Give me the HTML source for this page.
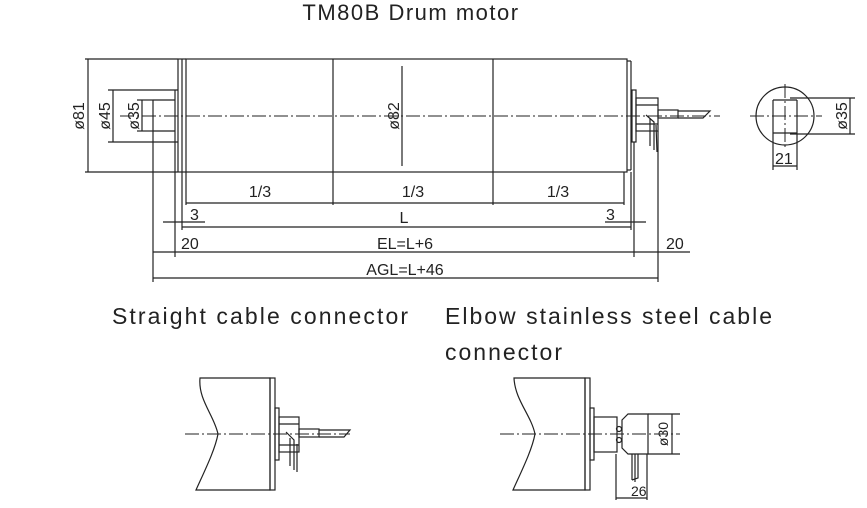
<!DOCTYPE html>
<html><head><meta charset="utf-8"><style>
body{margin:0;background:#fff}
svg{display:block}
text{font-family:"Liberation Sans",sans-serif;fill:#222}
</style></head><body>
<svg width="867" height="508" viewBox="0 0 867 508" xmlns="http://www.w3.org/2000/svg">
<rect width="867" height="508" fill="#fff"/>
<g stroke="#222" stroke-width="1.2" fill="none">
<rect x="186" y="59" width="441" height="113"/>
<line x1="178" y1="59" x2="186" y2="59"/><line x1="178" y1="172" x2="186" y2="172"/>
<line x1="178" y1="59" x2="178" y2="172"/><line x1="182" y1="59" x2="182" y2="172"/>
<line x1="333" y1="59" x2="333" y2="205"/><line x1="493" y1="59" x2="493" y2="205"/>
<line x1="631" y1="61" x2="631" y2="170"/><line x1="627" y1="61" x2="631" y2="61"/><line x1="627" y1="170" x2="631" y2="170"/>
<line x1="108" y1="90" x2="178" y2="90"/><line x1="108" y1="142" x2="178" y2="142"/>
<line x1="175" y1="90" x2="175" y2="257"/>
<line x1="153" y1="100" x2="175" y2="100"/><line x1="153" y1="131" x2="175" y2="131"/>
<line x1="137" y1="100" x2="153" y2="100"/><line x1="137" y1="131" x2="153" y2="131"/>
<line x1="153" y1="100" x2="153" y2="282"/>
<line x1="85" y1="59" x2="178" y2="59"/><line x1="85" y1="172" x2="178" y2="172"/>
<line x1="88" y1="59" x2="88" y2="172"/>
<line x1="113" y1="90" x2="113" y2="142"/>
<line x1="142" y1="100" x2="142" y2="131"/>
<rect x="632" y="90" width="4" height="52"/>
<rect x="636" y="98" width="22" height="33"/>
<line x1="636" y1="105" x2="658" y2="105"/><line x1="636" y1="124" x2="658" y2="124"/>
<rect x="658" y="110" width="20" height="8"/>
<path d="M678 111 L710 111 L703 118 L678 118"/>
<path d="M646 115 L654 122 L654 150 M650 118 L650 146 M656 125 L657 152" />
<line x1="186" y1="172" x2="186" y2="205"/><line x1="624" y1="172" x2="624" y2="205"/>
<line x1="186" y1="203" x2="624" y2="203"/>
<line x1="182" y1="172" x2="182" y2="230"/><line x1="631" y1="172" x2="631" y2="230"/>
<line x1="182" y1="227" x2="631" y2="227"/>
<line x1="163" y1="222" x2="205" y2="222"/><line x1="605" y1="222" x2="646" y2="222"/>
<line x1="634" y1="142" x2="634" y2="257"/>
<line x1="153" y1="252" x2="690" y2="252"/>
<line x1="658" y1="131" x2="658" y2="282"/>
<line x1="153" y1="278" x2="658" y2="278"/>
<line x1="402" y1="66" x2="402" y2="166"/>
<circle cx="785" cy="116" r="29"/>
<line x1="773" y1="100" x2="773" y2="170"/><line x1="797" y1="100" x2="797" y2="170"/>
<line x1="773" y1="100" x2="797" y2="100"/><line x1="773" y1="133" x2="797" y2="133"/>
<line x1="790" y1="98" x2="855" y2="98"/><line x1="790" y1="134" x2="855" y2="134"/>
<line x1="850" y1="98" x2="850" y2="134"/>
<line x1="773" y1="166" x2="797" y2="166"/>
<path d="M200 378 L270 378 L270 490 L196 490 C205 470 215 450 218 434 C214 415 198 400 200 378 Z"/>
<rect x="270" y="378" width="5" height="112"/>
<rect x="275" y="408" width="4" height="52"/>
<rect x="279" y="417" width="20" height="35"/>
<line x1="279" y1="424" x2="299" y2="424"/><line x1="279" y1="445" x2="299" y2="445"/>
<rect x="299" y="429" width="20" height="8"/>
<path d="M319 430 L350 430 L344 437 L319 437"/>
<path d="M286 432 L294 440 L294 470 M290 438 L290 466 M297 444 L297 472"/>
<path d="M514 378 L585 378 L585 490 L513 490 C522 470 532 450 535 434 C531 415 515 400 514 378 Z"/>
<rect x="585" y="378" width="5" height="112"/>
<rect x="590" y="408" width="4" height="52"/>
<rect x="594" y="417" width="23" height="35"/>
<circle cx="619" cy="429" r="2.5"/><circle cx="619" cy="440" r="2.5"/>
<path d="M622 420 L628 414 L648 414 L648 454 L628 454 L622 448 Z"/>
<line x1="648" y1="414" x2="680" y2="414"/><line x1="648" y1="454" x2="680" y2="454"/>
<line x1="672" y1="414" x2="672" y2="454"/>
<path d="M632 454 L632 480 M635 454 L635 482 M638 454 L638 478 L632 480"/>
<line x1="616" y1="454" x2="616" y2="500"/><line x1="647" y1="454" x2="647" y2="500"/>
<line x1="616" y1="498" x2="647" y2="498"/>
</g>
<g stroke="#222" stroke-width="1" stroke-dasharray="14,3,2,3" fill="none">
<line x1="120" y1="116" x2="720" y2="116"/>
<line x1="750" y1="116" x2="822" y2="116"/>
<line x1="785" y1="84" x2="785" y2="150"/>
<line x1="185" y1="434" x2="350" y2="434"/>
<line x1="500" y1="434" x2="680" y2="434"/>
</g>
<text x="411" y="20" font-size="22" text-anchor="middle" letter-spacing="1.5">TM80B Drum motor</text>
<g font-size="16">
<text x="260" y="197" text-anchor="middle">1/3</text>
<text x="413" y="197" text-anchor="middle">1/3</text>
<text x="558" y="197" text-anchor="middle">1/3</text>
<text x="190" y="220">3</text>
<text x="606" y="220">3</text>
<text x="404" y="223" text-anchor="middle">L</text>
<text x="181" y="249">20</text>
<text x="666" y="249">20</text>
<text x="405" y="249" text-anchor="middle">EL=L+6</text>
<text x="405" y="275" text-anchor="middle">AGL=L+46</text>
<text x="775" y="164">21</text>
<text x="631" y="496" font-size="14">26</text>
<text transform="translate(84,116) rotate(-90)" text-anchor="middle">ø81</text>
<text transform="translate(110,116) rotate(-90)" text-anchor="middle">ø45</text>
<text transform="translate(139,116) rotate(-90)" text-anchor="middle">ø35</text>
<text transform="translate(399,116) rotate(-90)" text-anchor="middle">ø82</text>
<text transform="translate(847,116) rotate(-90)" text-anchor="middle">ø35</text>
<text transform="translate(668,434) rotate(-90)" text-anchor="middle" font-size="14">ø30</text>
</g>
<g font-size="23">
<text x="112" y="324" textLength="296" lengthAdjust="spacing">Straight cable connector</text>
<text x="445" y="324" textLength="327" lengthAdjust="spacing">Elbow stainless steel cable</text>
<text x="445" y="360" textLength="117" lengthAdjust="spacing">connector</text>
</g>
</svg>
</body></html>
